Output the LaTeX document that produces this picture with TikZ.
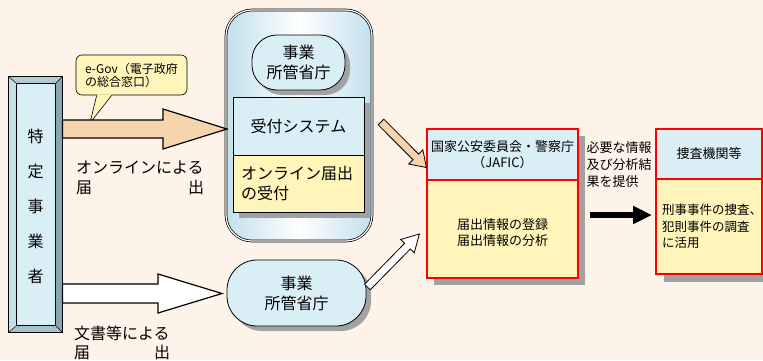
\documentclass[tikz,border=0pt]{standalone}
\usepackage{fontspec}
\setmainfont{Noto Sans CJK JP}
\usetikzlibrary{calc,shadows,arrows.meta}

\definecolor{bgpeach}{HTML}{FEF3E8}
\definecolor{paleblue}{HTML}{DAEEF6}
\definecolor{paleyellow}{HTML}{FFF5BA}
\definecolor{tanarrow}{HTML}{F6D5AE}
\definecolor{shadowgray}{HTML}{A2A2A2}
\definecolor{bevellight}{HTML}{C6DFE6}
\definecolor{beveltop}{HTML}{B4CBD1}
\definecolor{beveldark}{HTML}{88A7AE}
\definecolor{bevelbottom}{HTML}{A6C3CA}
\definecolor{portalblue}{HTML}{C2E0EB}

% hollow block arrow: style, tail, tip, shaft half width, head half width, head length
\newcommand\blockarrow[6]{%
  \coordinate (ba-h) at ($(#3)!#6!(#2)$);
  \draw[#1] ($(#2)!#4!90:(#3)$) -- ($(ba-h)!#4!-90:(#2)$) -- ($(ba-h)!#5!-90:(#2)$) -- (#3)
    -- ($(ba-h)!#5!90:(#2)$) -- ($(ba-h)!#4!90:(#2)$) -- ($(#2)!#4!-90:(#3)$) -- cycle;}

\begin{document}
\begin{tikzpicture}[x=1pt, y=-1pt,
    big/.style={font=\fontsize{16}{20}\selectfont},
    smalltext/.style={font=\fontsize{13}{16}\selectfont},
    shadowed/.style={drop shadow={shadow xshift=#1, shadow yshift=-#1, fill=shadowgray, opacity=1}},
    pill/.style={draw, line width=0.8pt, fill=paleblue, big, align=center, shadowed=5pt},
    panel/.style={draw, line width=0.8pt, big},
    redbox/.style={draw=red, line width=1.2pt, smalltext}]
    \useasboundingbox (0,0) rectangle (763,360);
    \fill[bgpeach] (0,0) rectangle (763,360);

    % Reporting business (bevelled pillar)
    \node[draw, line width=0.8pt, fill=paleblue, minimum width=53pt, minimum height=255pt, inner sep=0pt] (firm) at (35.5,204.5) {};
    \fill[beveltop] (firm.north west) -- (firm.north east) -- ($(firm.north east)+(-7,7)$) -- ($(firm.north west)+(8,7)$) -- cycle;
    \fill[bevellight] (firm.north west) -- ($(firm.north west)+(8,7)$) -- ($(firm.south west)+(8,-7)$) -- (firm.south west) -- cycle;
    \fill[beveldark] (firm.north east) -- ($(firm.north east)+(-7,7)$) -- ($(firm.south east)+(-7,-7)$) -- (firm.south east) -- cycle;
    \fill[bevelbottom] (firm.south west) -- ($(firm.south west)+(8,-7)$) -- ($(firm.south east)+(-7,-7)$) -- (firm.south east) -- cycle;
    \draw[line width=0.5pt] ($(firm.north west)+(8,7)$) rectangle ($(firm.south east)+(-7,-7)$);
    \draw[line width=0.5pt] (firm.north west) -- +(8,7) (firm.north east) -- +(-7,7)
        (firm.south west) -- +(8,-7) (firm.south east) -- +(-7,-7);
    \draw[line width=0.8pt] (firm.north west) rectangle (firm.south east);
    \node[font=\fontsize{16}{35}\selectfont, align=center] (firmtxt) at ($(firm.center)+(0,2)$) {特\\定\\事\\業\\者};

    % e-Gov callout
    \node[draw, line width=0.6pt, fill=paleyellow, rounded corners=6pt, minimum width=111pt, minimum height=40pt,
        align=left, font=\fontsize{12}{13}\selectfont] (egov) at (131.5,75) {e-Gov（電子政府\\の総合窓口）};
    \coordinate (egovtip) at (90,123);
    \fill[paleyellow] ($(egov.south west)+(21.2,-1)$) -- (egovtip) -- ($(egov.south west)+(36.6,-1)$) -- cycle;
    \draw[line width=0.6pt] ($(egov.south west)+(21,0)$) -- (egovtip) -- ($(egov.south west)+(36,0)$);

    % Online portal of the ministry
    \node[draw, line width=0.7pt, double=white, double distance=1.2pt, rounded corners=26pt,
        left color=portalblue, right color=portalblue, middle color=white,
        minimum width=146pt, minimum height=231pt] (portal) at (299,125.5) {};
    \node[pill, rounded corners=25pt, minimum width=93pt, minimum height=55pt] (ministryU) at (298.5,62.5) {事業\\所管省庁};
    \node[panel, fill=paleblue, minimum width=131pt, minimum height=58pt, shadowed=6pt] (reception) at (298.5,126) {受付システム};
    \node[panel, fill=paleyellow, text width=115pt, inner xsep=8pt, align=left, minimum height=57pt, shadowed=6pt] (onlineacc) at (298.5,183.5) {オンライン届出\\の受付};

    % Ministry for paper filings
    \node[pill, rounded corners=30pt, minimum width=139pt, minimum height=66pt] (ministryL) at (296.5,293) {事業\\所管省庁};

    % JAFIC
    \node[redbox, fill=paleblue, minimum width=151pt, minimum height=51pt, align=center, shadowed=7pt] (jafichead) at (502.5,154.5) {国家公安委員会・警察庁\\（JAFIC）};
    \node[redbox, fill=paleyellow, minimum width=151pt, minimum height=98pt, shadowed=7pt] (jaficbody) at (502.5,229) {};
    \node[smalltext, align=center] (jafictxt) at ($(jaficbody.center)+(0,4)$) {届出情報の登録\\届出情報の分析};

    % Investigative agencies
    \node[redbox, fill=paleblue, minimum width=106pt, minimum height=50pt, shadowed=8pt] (policehead) at (709,154) {捜査機関等};
    \node[redbox, fill=paleyellow, minimum width=106pt, minimum height=95pt, text width=94pt, inner xsep=6pt,
        align=left, font=\fontsize{12.5}{16.5}\selectfont, shadowed=8pt] (policebody) at (709,226.5) {刑事事件の捜査、\\犯則事件の調査\\に活用};

    % Labels
    \node[big, text width=128pt, align=left, inner sep=0pt] (onlinetxt) at (140,178) {オンラインによる\\\hbox to \hsize{届\hfill 出}};
    \node[text width=96pt, align=left, inner sep=0pt, font=\fontsize{16}{19}\selectfont] (papertxt) at (122,342.5) {文書等による\\\hbox to \hsize{届\hfill 出}};
    \node[align=left, font=\fontsize{13}{17}\selectfont] (provide) at (619,165) {必要な情報\\及び分析結\\果を提供};

    % Flows
    \coordinate (onE) at (227,129);
    \coordinate (onS) at (firm.east |- onE);
    \blockarrow{fill=tanarrow, line width=1.2pt}{onS}{onE}{9pt}{20pt}{64pt}
    \coordinate (docE) at (222,293.5);
    \coordinate (docS) at (firm.east |- docE);
    \blockarrow{fill=white, line width=1.2pt}{docS}{docE}{9.5pt}{19.5pt}{64pt}
    \coordinate (jfS) at (381,122);
    \coordinate (jfE) at ($(jafichead.west)!.5!(jafichead.south west)$);
    \blockarrow{fill=tanarrow, line width=0.8pt}{jfS}{jfE}{4pt}{10pt}{15pt}
    \coordinate (mlS) at ($(ministryL.east)+(1,-6)$);
    \coordinate (mlE) at ($(jaficbody.west)+(-7,5)$);
    \blockarrow{fill=white, line width=0.8pt}{mlS}{mlE}{4pt}{9.5pt}{17pt}
    \coordinate (provS) at (590,215);
    \coordinate (provE) at (652,215);
    \draw[line width=6pt, -{Triangle[length=19pt,width=17pt]}] (provS) -- (provE);
\end{tikzpicture}
\end{document}
